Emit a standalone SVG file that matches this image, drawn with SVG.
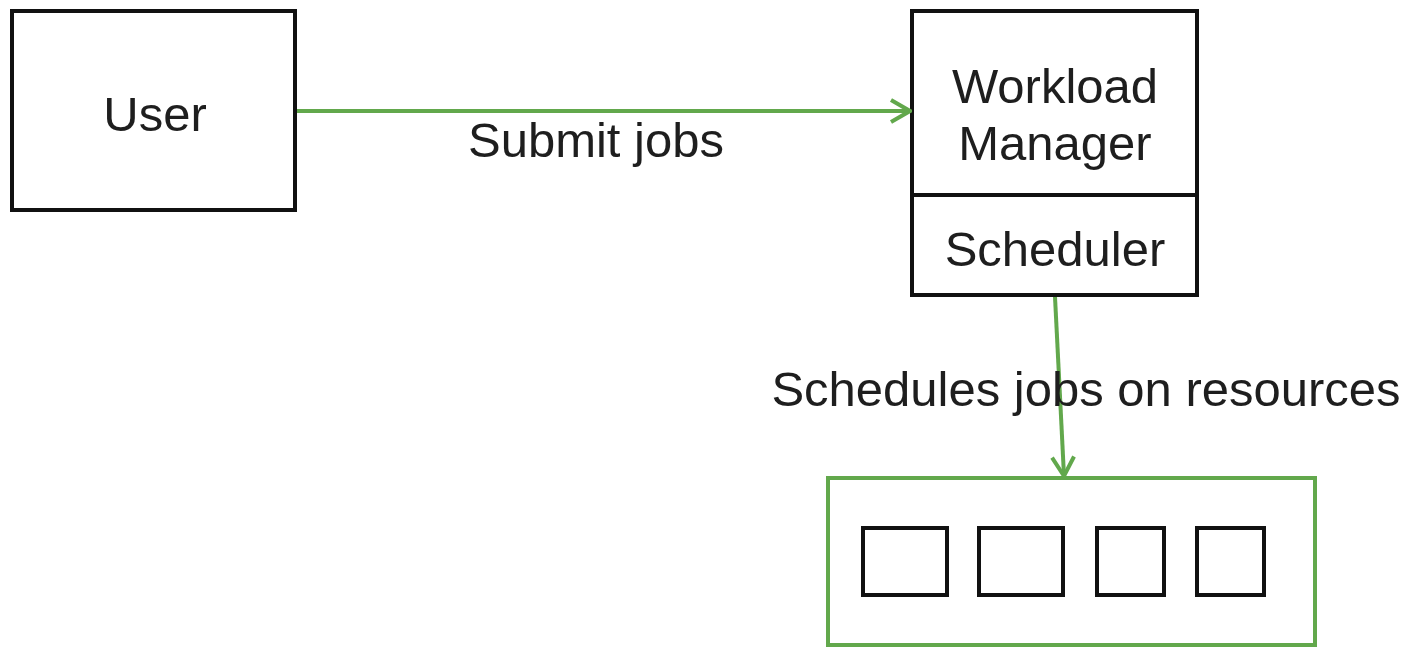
<svg xmlns="http://www.w3.org/2000/svg" width="1415" height="647" viewBox="0 0 1415 647">
<style>
.box{fill:#fff;stroke:#111;stroke-width:4}
.res{fill:none;stroke:#62a84c;stroke-width:4}
.con{fill:none;stroke:#62a84c;stroke-width:4}
.t{font-family:"Liberation Sans",Arial,sans-serif;font-size:49px;fill:#1e1e1e;text-anchor:middle}
</style>
<defs>
<marker id="arr" viewBox="0 0 26 26" refX="24" refY="13" markerWidth="26" markerHeight="26" markerUnits="userSpaceOnUse" orient="auto">
<path d="M5,2 L24,13 L5,24" fill="none" stroke="#62a84c" stroke-width="4"/>
</marker>
</defs>
<rect width="1415" height="647" fill="#fff"/>
<g id="user">
<rect class="box" x="12" y="11" width="283" height="199"/>
<text class="t" x="155" y="131">User</text>
</g>
<g id="workload-manager">
<rect class="box" x="912" y="11" width="285" height="284"/>
<line x1="912" y1="195" x2="1197" y2="195" stroke="#111" stroke-width="4"/>
<text class="t" x="1055" y="103">Workload</text>
<text class="t" x="1055" y="160">Manager</text>
<text class="t" x="1055" y="266">Scheduler</text>
</g>
<g id="resources">
<rect class="res" x="828" y="478" width="487" height="167"/>
<rect class="box" x="863" y="528" width="84" height="67"/>
<rect class="box" x="979" y="528" width="84" height="67"/>
<rect class="box" x="1097" y="528" width="67" height="67"/>
<rect class="box" x="1197" y="528" width="67" height="67"/>
</g>
<g id="connectors">
<line class="con" x1="297" y1="111" x2="910" y2="111" marker-end="url(#arr)"/>
<text class="t" x="596" y="157">Submit jobs</text>
<line class="con" x1="1055" y1="297" x2="1064" y2="476" marker-end="url(#arr)"/>
<text class="t" x="1086" y="406">Schedules jobs on resources</text>
</g>
</svg>
